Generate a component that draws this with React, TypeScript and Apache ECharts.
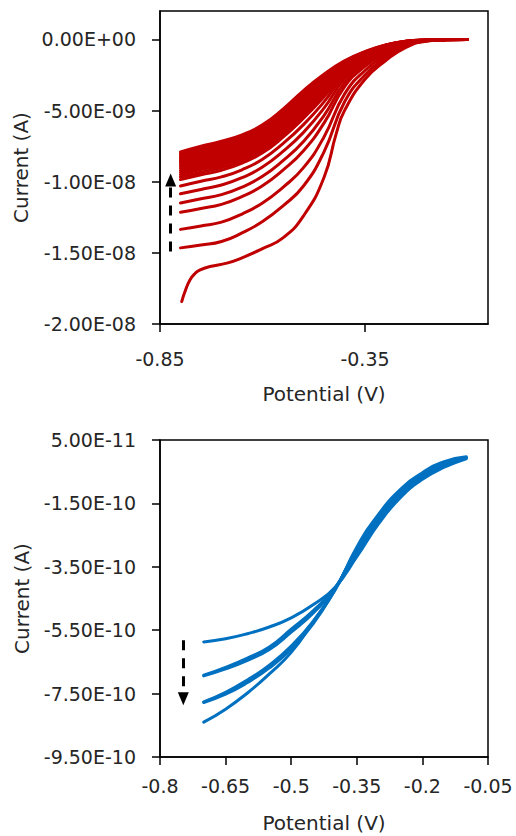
import React, { useEffect, useRef } from 'react';
import * as echarts from 'echarts';

// ---------- upper panel: repeated scans (current in nA) ----------
const RED_POTENTIAL = [-0.8, -0.75, -0.7, -0.65, -0.6, -0.55, -0.5, -0.45, -0.4, -0.35, -0.3, -0.25, -0.2, -0.15, -0.1];

const redScanA = [-7.9, -7.5, -7.15, -6.7, -6.0, -4.9, -3.6, -2.45, -1.5, -0.85, -0.38, -0.12, -0.04, -0.01, 0];
const redScanA2 = [-8.03, -7.63, -7.28, -6.83, -6.12, -5.02, -3.72, -2.55, -1.55, -0.88, -0.4, -0.12, -0.04, -0.01, 0];
const redScanB = [-8.15, -7.76, -7.41, -6.96, -6.25, -5.15, -3.85, -2.65, -1.61, -0.91, -0.41, -0.13, -0.04, -0.01, 0];
const redScanB2 = [-8.28, -7.89, -7.54, -7.09, -6.38, -5.28, -3.97, -2.75, -1.66, -0.94, -0.43, -0.13, -0.04, -0.01, 0];
const redScanC = [-8.4, -8.01, -7.67, -7.21, -6.5, -5.4, -4.1, -2.85, -1.71, -0.97, -0.45, -0.14, -0.04, -0.01, 0];
const redScanC2 = [-8.53, -8.14, -7.8, -7.34, -6.62, -5.52, -4.22, -2.95, -1.76, -1.0, -0.46, -0.15, -0.04, -0.01, 0];
const redScanD = [-8.65, -8.27, -7.93, -7.47, -6.75, -5.65, -4.34, -3.05, -1.82, -1.03, -0.48, -0.16, -0.05, -0.01, 0];
const redScanD2 = [-8.78, -8.4, -8.06, -7.6, -6.88, -5.78, -4.46, -3.15, -1.87, -1.06, -0.5, -0.16, -0.05, -0.01, 0];
const redScanE = [-8.9, -8.53, -8.19, -7.72, -7.01, -5.91, -4.59, -3.26, -1.93, -1.09, -0.52, -0.17, -0.05, -0.01, 0];
const redScanE2 = [-9.05, -8.69, -8.35, -7.87, -7.16, -6.06, -4.74, -3.38, -2.0, -1.13, -0.54, -0.17, -0.05, -0.01, 0];
const redScanF = [-9.2, -8.84, -8.51, -8.03, -7.31, -6.21, -4.89, -3.5, -2.06, -1.17, -0.56, -0.18, -0.05, -0.01, 0];
const redScanF2 = [-9.35, -9.0, -8.67, -8.19, -7.46, -6.36, -5.04, -3.62, -2.12, -1.2, -0.58, -0.19, -0.05, -0.01, 0];
const redScanG = [-9.5, -9.15, -8.82, -8.34, -7.61, -6.51, -5.19, -3.74, -2.19, -1.24, -0.6, -0.2, -0.05, -0.01, 0];
const redScanG2 = [-9.67, -9.33, -9.0, -8.51, -7.79, -6.69, -5.36, -3.88, -2.26, -1.28, -0.62, -0.21, -0.06, -0.01, 0];
const redScanH = [-9.85, -9.51, -9.19, -8.69, -7.97, -6.87, -5.54, -4.03, -2.34, -1.33, -0.65, -0.22, -0.06, -0.01, 0];
const redScanI = [-10.3, -9.97, -9.66, -9.16, -8.42, -7.32, -5.99, -4.39, -2.53, -1.44, -0.71, -0.24, -0.06, -0.01, 0];
const redScanJ = [-10.85, -10.54, -10.23, -9.72, -8.97, -7.87, -6.53, -4.83, -2.77, -1.57, -0.78, -0.26, -0.07, -0.01, 0];
const redScanK = [-11.5, -11.2, -10.91, -10.38, -9.62, -8.52, -7.17, -5.35, -3.05, -1.73, -0.87, -0.3, -0.07, -0.02, 0];
const redScanL = [-12.15, -11.88, -11.59, -11.05, -10.28, -9.18, -7.82, -5.88, -3.33, -1.89, -0.96, -0.33, -0.08, -0.02, 0];
const redScanM = [-13.35, -13.11, -12.84, -12.27, -11.49, -10.39, -9.01, -6.85, -3.84, -2.18, -1.12, -0.39, -0.09, -0.02, 0];
const redScanN = [-14.65, -14.45, -14.2, -13.6, -12.8, -11.7, -10.3, -7.9, -4.4, -2.5, -1.3, -0.45, -0.1, -0.02, 0];

const RED_SCANS = [
  redScanA, redScanA2, redScanB, redScanB2, redScanC, redScanC2, redScanD, redScanD2,
  redScanE, redScanE2, redScanF, redScanF2, redScanG, redScanG2, redScanH,
  redScanI, redScanJ, redScanK, redScanL, redScanM, redScanN,
];

// first scan has its own sampling (sharp knee at the start)
const firstScanPotential = [-0.797, -0.789, -0.777, -0.764, -0.752, -0.728, -0.687, -0.65, -0.6, -0.55, -0.5, -0.45, -0.42, -0.4, -0.35, -0.3, -0.25, -0.2, -0.15, -0.1];
const firstScanCurrent = [-18.42, -17.71, -16.9, -16.43, -16.19, -15.96, -15.72, -15.35, -14.7, -13.95, -12.4, -9.7, -6.6, -5.0, -2.8, -1.5, -0.55, -0.12, -0.03, 0];

const TOP_X_TICKS = [-0.85, -0.35];
const TOP_Y_TICKS = [-2e-8, -1.5e-8, -1e-8, -5e-9, 0];

// ---------- lower panel: cycles in pA ----------
const BLUE_POTENTIAL = [-0.7, -0.65, -0.6, -0.55, -0.5, -0.45, -0.4, -0.35, -0.3, -0.25, -0.2, -0.15, -0.1];
const blueScan1 = [-587, -577, -561, -540, -511, -470, -415, -318, -214, -131, -74, -36, -9];
const blueScan2 = [-692, -667, -638, -603, -547, -489, -418, -308, -206, -123, -67, -30, -7];
const blueScan2b = [-694, -672, -645, -611, -556, -496, -420, -304, -202, -120, -64, -28, -6];
const blueScan3 = [-776, -746, -707, -660, -600, -522, -420, -298, -196, -115, -61, -25, -5];
const blueScan3b = [-778, -752, -715, -669, -609, -530, -422, -295, -192, -111, -58, -22, -5];
const blueScan4 = [-840, -799, -748, -688, -620, -525, -424, -288, -184, -106, -53, -18, -3];
const BLUE_SCANS = [blueScan1, blueScan2, blueScan2b, blueScan3, blueScan3b, blueScan4];

const BOTTOM_X_TICKS = [-0.8, -0.65, -0.5, -0.35, -0.2, -0.05];
const BOTTOM_Y_TICKS = [-9.5e-10, -7.5e-10, -5.5e-10, -3.5e-10, -1.5e-10, 5e-11];

// trend arrows [potential, current]
const upArrow = [[-0.824, -1.49e-8], [-0.824, -9.87e-9]];
const downArrow = [[-0.7467, -5.82e-10], [-0.7467, -7.66e-10]];

const NANO = 1e-9;
const PICO = 1e-12;

const RED = '#C00000';
const BLUE = '#0070C0';
const INK = '#262626';
const FONT = 'DejaVu Sans';

function sci(v: number): string {
  if (Math.abs(v) < 1e-20) return '0.00E+00';
  const [m, e] = v.toExponential(2).split('e');
  const n = parseInt(e, 10);
  return `${m}E${n < 0 ? '-' : '+'}${String(Math.abs(n)).padStart(2, '0')}`;
}

function plain(v: number): string {
  return String(parseFloat(v.toFixed(2)));
}

function axisBase(extra: any) {
  return {
    type: 'value',
    axisLine: { show: true, onZero: false, lineStyle: { color: '#000', width: 1.5 } },
    splitLine: { show: false },
    nameLocation: 'middle',
    nameTextStyle: { color: INK, fontSize: 20, fontFamily: FONT },
    ...extra,
  };
}

function ticks(values: number[]) {
  return { show: true, length: 8, customValues: values, lineStyle: { color: '#000', width: 1.5 } };
}

function labels(values: number[], formatter: (v: number) => string, margin: number) {
  return { customValues: values, formatter, color: INK, fontSize: 19, fontFamily: FONT, margin };
}

export default function App() {
  const ref = useRef<HTMLDivElement>(null);

  useEffect(() => {
    document.body.style.margin = '0';
    if (!ref.current) return;
    const chart = echarts.init(ref.current, undefined, { renderer: 'svg' });

    const curve = (xi: number, xs: number[], ys: number[], unit: number, color: string, width: number, name: string) => ({
      type: 'line',
      name,
      xAxisIndex: xi,
      yAxisIndex: xi,
      data: xs.map((v, j) => [v, ys[j] * unit]),
      showSymbol: false,
      smooth: 0.5,
      lineStyle: { color, width, cap: 'round', join: 'round' },
    });

    const redSeries: any[] = RED_SCANS.map((scan, i) => curve(0, RED_POTENTIAL, scan, NANO, RED, 3, `scan ${i + 2}`));
    redSeries.push(curve(0, firstScanPotential, firstScanCurrent, NANO, RED, 3, 'scan 1'));

    const blueSeries: any[] = BLUE_SCANS.map((scan, i) => curve(1, BLUE_POTENTIAL, scan, PICO, BLUE, 3, `cycle ${i + 1}`));

    const arrowSeries = (xi: number, pts: number[][]) => ({
      type: 'line',
      xAxisIndex: xi,
      yAxisIndex: xi,
      data: [],
      z: 5,
      markLine: {
        silent: true,
        symbol: ['none', 'triangle'],
        symbolSize: [11, 13],
        label: { show: false },
        lineStyle: { color: '#000', width: 3, type: [10, 8] },
        itemStyle: { color: '#000' },
        data: [[{ coord: pts[0] }, { coord: pts[1] }]],
      },
    });

    chart.setOption({
      animation: false,
      backgroundColor: '#fff',
      textStyle: { fontFamily: FONT },
      grid: [
        { left: 160, right: 28, top: 11, height: 313, show: true, borderColor: '#000', borderWidth: 1.5 },
        { left: 160, right: 28, top: 440, height: 317, show: true, borderColor: '#000', borderWidth: 1.5 },
      ],
      xAxis: [
        axisBase({
          gridIndex: 0,
          min: -0.85,
          max: -0.05,
          name: 'Potential (V)',
          nameGap: 60,
          axisTick: ticks(TOP_X_TICKS),
          axisLabel: labels(TOP_X_TICKS, plain, 25),
        }),
        axisBase({
          gridIndex: 1,
          min: -0.8,
          max: -0.05,
          name: 'Potential (V)',
          nameGap: 56,
          axisTick: ticks(BOTTOM_X_TICKS),
          axisLabel: labels(BOTTOM_X_TICKS, plain, 19),
        }),
      ],
      yAxis: [
        axisBase({
          gridIndex: 0,
          min: -2e-8,
          max: 2e-9,
          name: 'Current (A)',
          nameGap: 128,
          axisTick: ticks(TOP_Y_TICKS),
          axisLabel: labels(TOP_Y_TICKS, sci, 24),
        }),
        axisBase({
          gridIndex: 1,
          min: -9.5e-10,
          max: 5e-11,
          name: 'Current (A)',
          nameGap: 128,
          axisTick: ticks(BOTTOM_Y_TICKS),
          axisLabel: labels(BOTTOM_Y_TICKS, sci, 24),
        }),
      ],
      series: [...redSeries, ...blueSeries, arrowSeries(0, upArrow), arrowSeries(1, downArrow)],
    });

    return () => chart.dispose();
  }, []);

  return <div ref={ref} style={{ position: 'absolute', left: 0, top: 0, width: 516, height: 836 }} />;
}
